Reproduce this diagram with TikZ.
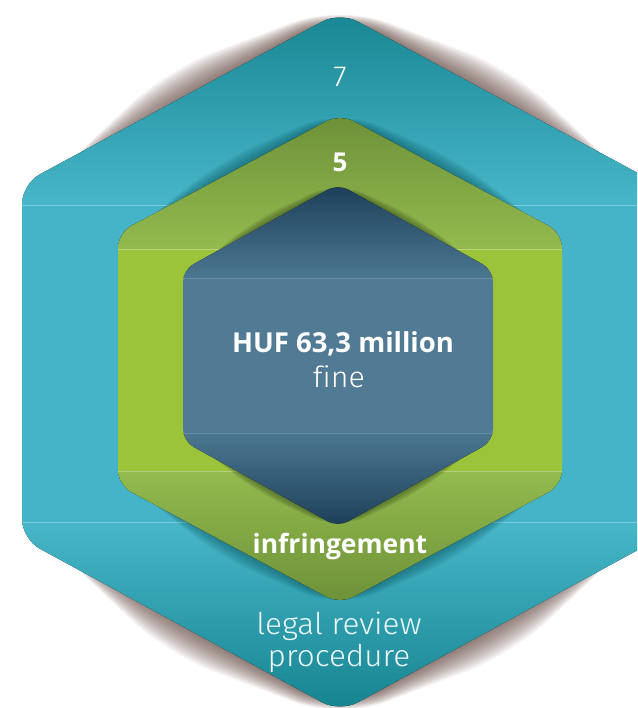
\documentclass[tikz,border=0pt]{standalone}
\usepackage{fontspec}
\setmainfont{Fira Sans Light}[FakeStretch=1.05, Ligatures=NoCommon]
\newfontfamily\boldfont{Open Sans}[Ligatures=NoCommon]
\definecolor{tealD}{HTML}{16838F}
\definecolor{tealL}{HTML}{47B7C9}
\definecolor{tealM}{HTML}{46B4C8}
\definecolor{greenD}{HTML}{6D9038}
\definecolor{greenL}{HTML}{93BB4E}
\definecolor{greenM}{HTML}{9BC43B}
\definecolor{blueD}{HTML}{1C3F59}
\definecolor{blueL}{HTML}{4C7791}
\definecolor{blueM}{HTML}{517A94}
\definecolor{shadowA}{HTML}{4A2A22}
\definecolor{shadowB}{HTML}{0A4E58}
\definecolor{shadowC}{HTML}{35461A}
% hexagon: cx, top, v1, v2, bottom, halfwidth
\newcommand\hexpath[6]{({#1-(#6)},{((#3)+(#4))/2}) -- ({#1-(#6)},{#4}) -- ({#1},{#5}) -- ({#1+(#6)},{#4}) -- ({#1+(#6)},{#3}) -- ({#1},{#2}) -- ({#1-(#6)},{#3}) -- cycle}
% shadow bands: cx, tip, v, halfwidth, d, a, inset, sign (-1 top, +1 bottom)
\newcommand\bandpath[8]{({#1-(#4)+(#7)},{#3}) -- ({#1-(#4)/2-0.47*(#5)},{((#2)+(#3))/2+(#8)*0.88*(#5)}) -- ({#1},{#2+(#8)*(#6)}) -- ({#1+(#4)/2+0.47*(#5)},{((#2)+(#3))/2+(#8)*0.88*(#5)}) -- ({#1+(#4)-(#7)},{#3}) -- cycle}
\tikzset{
  txt/.style={text=white, inner sep=0pt, anchor=center},
  seam/.style={white, opacity=0.3, line width=0.8pt}
}
\begin{document}
\begin{tikzpicture}[x=1pt,y=-1pt]
\useasboundingbox (0,0) rectangle (637,708);
\clip (0,0) rectangle (637,708);
% outer shadow
\foreach \i in {1,...,15}{
  \fill[shadowA, opacity=0.06, rounded corners=50pt] \bandpath{340}{12}{184}{318}{2.1*\i}{0.5*\i}{24}{-1};
  \fill[shadowA, opacity=0.06, rounded corners=50pt] \bandpath{340}{712}{539}{318}{2.1*\i}{0.5*\i}{24}{1};
}
% outer hexagon
\begin{scope}
  \clip[rounded corners=20pt] \hexpath{340}{12}{184}{539}{712}{318};
  \fill[top color=tealD, bottom color=tealL] (0,0) rectangle (637,205);
  \fill[tealM] (0,205) rectangle (637,522);
  \fill[top color=tealL, bottom color=tealD] (0,522) rectangle (637,712);
  \draw[seam] (0,205) -- (637,205) (0,522) -- (637,522);
  % green shadow
  \foreach \i in {1,...,10}{
    \fill[shadowB, opacity=0.065, rounded corners=40pt] \bandpath{340}{115}{233}{222}{1.6*\i}{0.6*\i}{12}{-1};
    \fill[shadowB, opacity=0.065, rounded corners=40pt] \bandpath{340}{603}{485}{222}{1.6*\i}{0.6*\i}{12}{1};
  }
  % green hexagon
  \begin{scope}
    \clip[rounded corners=15pt] \hexpath{340}{114}{233}{485}{604}{222};
    \fill[top color=greenD, bottom color=greenL] (0,114) rectangle (637,249);
    \fill[greenM] (0,249) rectangle (637,471);
    \fill[top color=greenL, bottom color=greenD] (0,471) rectangle (637,604);
    \draw[seam] (0,249) -- (637,249) (0,471) -- (637,471);
    % inner shadow
    \foreach \i in {1,...,8}{
      \fill[shadowC, opacity=0.09, rounded corners=30pt] \bandpath{338}{185}{270}{155}{1.2*\i}{0.5*\i}{10}{-1};
      \fill[shadowC, opacity=0.09, rounded corners=30pt] \bandpath{338}{526}{441}{155}{1.2*\i}{0.5*\i}{10}{1};
    }
    % inner hexagon
    \begin{scope}
      \clip[rounded corners=12pt] \hexpath{338}{184}{270}{441}{527}{155};
      \fill[top color=blueD, bottom color=blueL] (0,184) rectangle (637,278);
      \fill[blueM] (0,278) rectangle (637,433);
      \fill[top color=blueL, bottom color=blueD] (0,433) rectangle (637,527);
      \draw[seam, opacity=0.15] (0,278) -- (637,278) (0,433) -- (637,433);
    \end{scope}
  \end{scope}
\end{scope}
% texts
\node[txt, font=\fontsize{29}{32}\selectfont] (seven) at (340,77) {7};
\node[txt, font=\boldfont\bfseries\fontsize{26}{30}\selectfont] (five) at (340,162) {5};
\node[txt, font=\boldfont\bfseries\fontsize{27.5}{30}\selectfont] (huf) at (343,344) {HUF 63,3 million};
\node[txt, font=\fontsize{29}{30}\selectfont] (fine) at (339,377) {fine};
\node[txt, font=\boldfont\bfseries\fontsize{26.5}{30}\selectfont] (infr) at (340,547) {infringement};
\node[txt, text=white!90!tealL, font=\fontsize{30}{34}\selectfont] (legal) at (339,626) {legal review};
\node[txt, text=white!90!tealL, font=\fontsize{30}{34}\selectfont] (proc) at (339,658) {procedure};
\end{tikzpicture}
\end{document}
